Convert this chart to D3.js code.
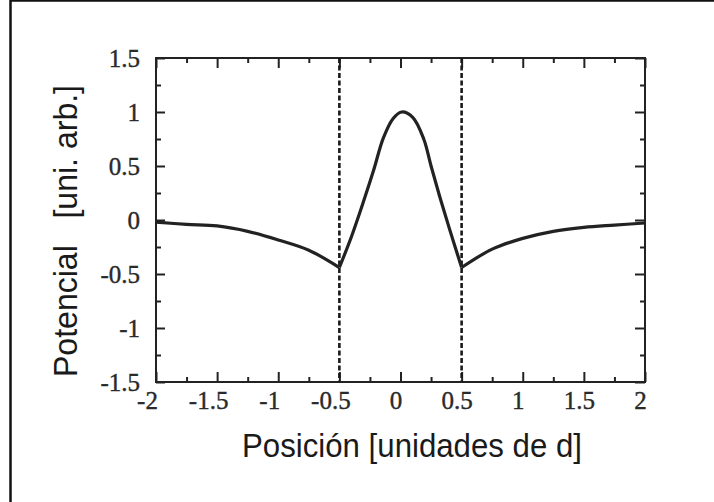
<!DOCTYPE html>
<html>
<head>
<meta charset="utf-8">
<script src="https://cdn.jsdelivr.net/npm/d3@7"></script>
<style>
  body { margin: 0; background: #fff; }
  svg { display: block; }
  .tick text { font-family: 'Liberation Serif', 'DejaVu Serif', serif; font-size: 25px; }
</style>
</head>
<body>
<svg id="chart" width="714" height="502"></svg>
<script>
// potential curve (three pieces, cusps at +-0.5)
const leftX = [-2, -1.75, -1.5, -1.25, -1, -0.75, -0.5];
const leftV = [-0.02, -0.04, -0.055, -0.105, -0.185, -0.28, -0.44];

const centerX = [-0.5, -0.4, -0.3, -0.22, -0.14, -0.06, 0.01, 0.1, 0.19, 0.25, 0.32, 0.4, 0.5];
const centerV = [-0.44, -0.15, 0.18, 0.46, 0.76, 0.94, 1.0, 0.95, 0.75, 0.5, 0.22, -0.08, -0.44];

const rightX = [0.5, 0.75, 1, 1.25, 1.5, 1.75, 2];
const rightV = [-0.44, -0.27, -0.17, -0.105, -0.068, -0.047, -0.028];

// dashed guide lines
const wallX = [-0.5, 0.5];

// ticks
const xTicks = [-2, -1.5, -1, -0.5, 0, 0.5, 1, 1.5, 2];
const yTicks = [-1.5, -1, -0.5, 0, 0.5, 1, 1.5];
const xMinor = [-1.75, -1.25, -0.75, -0.25, 0.25, 0.75, 1.25, 1.75];
const yMinor = [-1.25, -0.75, -0.25, 0.25, 0.75, 1.25];

const xTitle = "Posición [unidades de d]";
const yTitle = "Potencial   [uni. arb.]";

let svg = d3.select("#chart");

// plot box
let box = { left: 156, right: 645, top: 58, bottom: 382 };

let x = d3.scaleLinear().domain([-2, 2]).range([box.left, box.right]);
let y = d3.scaleLinear().domain([-1.5, 1.5]).range([box.bottom, box.top]);

let ink = "#222";

// outer frame (only left and top edges are inside the picture)
svg.append("rect")
  .attr("x", 10.5).attr("y", 0.5)
  .attr("width", 760).attr("height", 560)
  .attr("fill", "none")
  .attr("stroke", "#111")
  .attr("stroke-width", 2.5);

let fmt = d => String(d);

function styleAxis(g) {
  g.attr("font-size", 25).attr("font-family", "'Liberation Serif', 'DejaVu Serif', serif");
  g.select(".domain").remove();
  g.selectAll(".tick line").attr("stroke", ink).attr("stroke-width", 2);
  g.selectAll(".tick text")
    .attr("fill", "#2a2a2a")
    .attr("stroke", "#2a2a2a")
    .attr("stroke-width", 0.4);
}

// bottom axis
svg.append("g")
  .attr("transform", `translate(0,${box.bottom})`)
  .call(d3.axisBottom(x).tickValues(xTicks).tickFormat(fmt).tickSize(-10).tickPadding(9))
  .call(styleAxis)
  .selectAll(".tick text")
  .attr("dx", d => d < 0 ? -9 : -5);

svg.append("g")
  .attr("transform", `translate(0,${box.bottom})`)
  .call(d3.axisBottom(x).tickValues(xMinor).tickFormat("").tickSize(-5))
  .call(styleAxis);

// top axis
svg.append("g")
  .attr("transform", `translate(0,${box.top})`)
  .call(d3.axisTop(x).tickValues(xTicks).tickFormat("").tickSize(-10))
  .call(styleAxis);

svg.append("g")
  .attr("transform", `translate(0,${box.top})`)
  .call(d3.axisTop(x).tickValues(xMinor).tickFormat("").tickSize(-5))
  .call(styleAxis);

// left axis
svg.append("g")
  .attr("transform", `translate(${box.left},0)`)
  .call(d3.axisLeft(y).tickValues(yTicks).tickFormat(fmt).tickSize(-9).tickPadding(16))
  .call(styleAxis);

svg.append("g")
  .attr("transform", `translate(${box.left},0)`)
  .call(d3.axisLeft(y).tickValues(yMinor).tickFormat("").tickSize(-5))
  .call(styleAxis);

// right axis
svg.append("g")
  .attr("transform", `translate(${box.right},0)`)
  .call(d3.axisRight(y).tickValues(yTicks).tickFormat("").tickSize(-10))
  .call(styleAxis);

svg.append("g")
  .attr("transform", `translate(${box.right},0)`)
  .call(d3.axisRight(y).tickValues(yMinor).tickFormat("").tickSize(-5))
  .call(styleAxis);

// box
svg.append("rect")
  .attr("x", box.left).attr("y", box.top)
  .attr("width", box.right - box.left).attr("height", box.bottom - box.top)
  .attr("fill", "none")
  .attr("stroke", ink)
  .attr("stroke-width", 2);

// dashed lines at the cusps
svg.append("g")
  .selectAll("line")
  .data(wallX)
  .enter()
  .append("line")
  .attr("x1", d => x(d)).attr("x2", d => x(d))
  .attr("y1", box.top).attr("y2", box.bottom)
  .attr("stroke", "#1a1a1a")
  .attr("stroke-width", 2.6)
  .attr("stroke-dasharray", "5,2.5");

// curve
let line = d3.line()
  .x(d => x(d[0]))
  .y(d => y(d[1]))
  .curve(d3.curveCatmullRom.alpha(0.5));

let pieces = [
  d3.zip(leftX, leftV),
  d3.zip(centerX, centerV),
  d3.zip(rightX, rightV)
];

svg.append("g")
  .selectAll("path")
  .data(pieces)
  .enter()
  .append("path")
  .attr("d", line)
  .attr("fill", "none")
  .attr("stroke", "#222")
  .attr("stroke-width", 3.2)
  .attr("stroke-linejoin", "round");

// axis titles
svg.append("text")
  .attr("x", 412)
  .attr("y", 457)
  .attr("text-anchor", "middle")
  .attr("textLength", 340)
  .attr("lengthAdjust", "spacingAndGlyphs")
  .attr("fill", "#1a1a1a")
  .style("font-family", "'Liberation Sans', Arial, sans-serif")
  .style("font-size", "33px")
  .text(xTitle);

svg.append("text")
  .attr("transform", "translate(77,231) rotate(-90)")
  .attr("text-anchor", "middle")
  .attr("textLength", 292)
  .attr("lengthAdjust", "spacingAndGlyphs")
  .attr("fill", "#1a1a1a")
  .style("white-space", "pre")
  .style("font-family", "'Liberation Sans', Arial, sans-serif")
  .style("font-size", "33px")
  .text(yTitle);
</script>
</body>
</html>
